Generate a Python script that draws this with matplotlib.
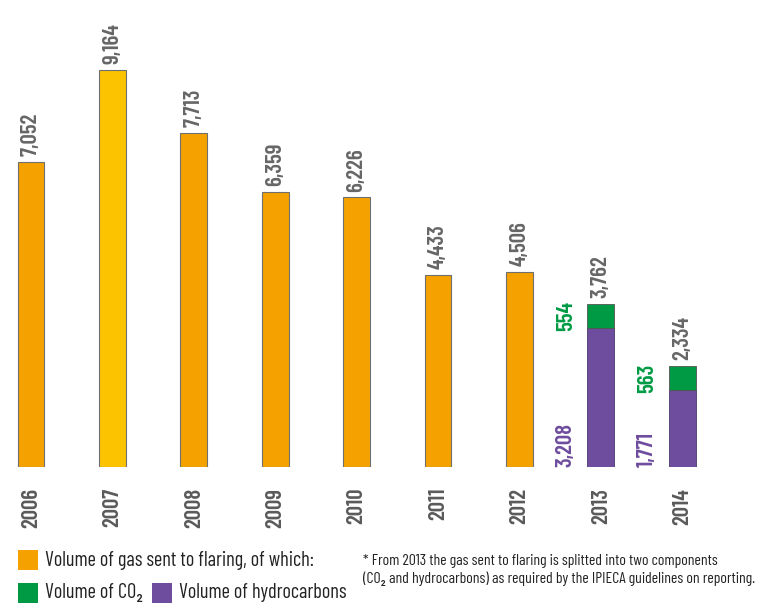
import matplotlib
matplotlib.use("Agg")
import matplotlib.pyplot as plt
from matplotlib.patches import Rectangle

FONT = ["Barlow Condensed", "Roboto Condensed", "DejaVu Sans"]
plt.rcParams["font.family"] = FONT

# Gas sent to flaring (thousand m3)
years = ["2006", "2007", "2008", "2009", "2010", "2011", "2012", "2013", "2014"]
total_flared = [7052, 9164, 7713, 6359, 6226, 4433, 4506, 3762, 2334]
# From 2013 the total is split into hydrocarbons and CO2
split_years = ["2013", "2014"]
hydrocarbons = [3208, 1771]
co2 = [554, 563]

ORANGE = "#F5A200"
YELLOW = "#FCC300"
GREEN = "#009A44"
PURPLE = "#6E4C9E"
GREY = "#666666"

fig = plt.figure(figsize=(7.6, 6.04), dpi=100)
W, H = 760, 604
base_px = 467
top_px = 20
ax = fig.add_axes([0, (H - base_px) / H, 1, (base_px - top_px) / H])
spacing = 81.4
first_center = 31
ax.set_xlim(-first_center / spacing, (W - first_center) / spacing)
ax.set_ylim(0, (base_px - top_px) / 0.04332)
ax.axis("off")

bar_w = 0.33
label_kw = dict(rotation=90, fontsize=16.5, fontweight="semibold", ha="center",
                clip_on=False)

for i, (yr, tot) in enumerate(zip(years, total_flared)):
    if yr in split_years:
        j = split_years.index(yr)
        h, c = hydrocarbons[j], co2[j]
        ax.bar(i, h, width=bar_w, color=PURPLE, edgecolor="#4a3a6a", linewidth=0.6)
        ax.bar(i, c, bottom=h, width=bar_w, color=GREEN, edgecolor="#555555", linewidth=0.6)
        lx = i - 0.43
        ax.text(lx, h + c / 2, f"{c:,}", color=GREEN, va="center", **label_kw)
        ax.text(lx, 0, f"{h:,}", color=PURPLE, va="bottom", **label_kw)
        ax.text(i, tot + 130, f"{tot:,}", color=GREY, va="bottom", **label_kw)
    else:
        col = YELLOW if yr == "2007" else ORANGE
        ax.bar(i, tot, width=bar_w, color=col, edgecolor="#6f6f6f", linewidth=0.8)
        ax.text(i, tot + 130, f"{tot:,}", color=GREY, va="bottom", **label_kw)

    ax.text(i, -480, yr, color="#5a5a5a", va="top", **label_kw)

# Legend
def swatch(x0, y0, color):
    fig.patches.append(Rectangle((x0 / W, 1 - (y0 + 20) / H), 20 / W, 20 / H,
                                 transform=fig.transFigure, facecolor=color,
                                 edgecolor="none"))

leg_kw = dict(fontsize=14.6, color="#222222", va="center", ha="left")
swatch(18, 550, ORANGE)
fig.text(45 / W, 1 - 560 / H, "Volume of gas sent to flaring, of which:", **leg_kw)
swatch(18, 583, GREEN)
fig.text(45 / W, 1 - 593 / H, "Volume of CO₂", **leg_kw)
swatch(152, 583, PURPLE)
fig.text(179 / W, 1 - 593 / H, "Volume of hydrocarbons", **leg_kw)

note_kw = dict(fontsize=11.3, color="#222222", va="center", ha="left")
fig.text(363 / W, 1 - 561 / H,
         "* From 2013 the gas sent to flaring is splitted into two components", **note_kw)
fig.text(363 / W, 1 - 579 / H,
         "(CO₂ and hydrocarbons) as required by the IPIECA guidelines on reporting.", **note_kw)

fig.savefig("out.png", dpi=100)
